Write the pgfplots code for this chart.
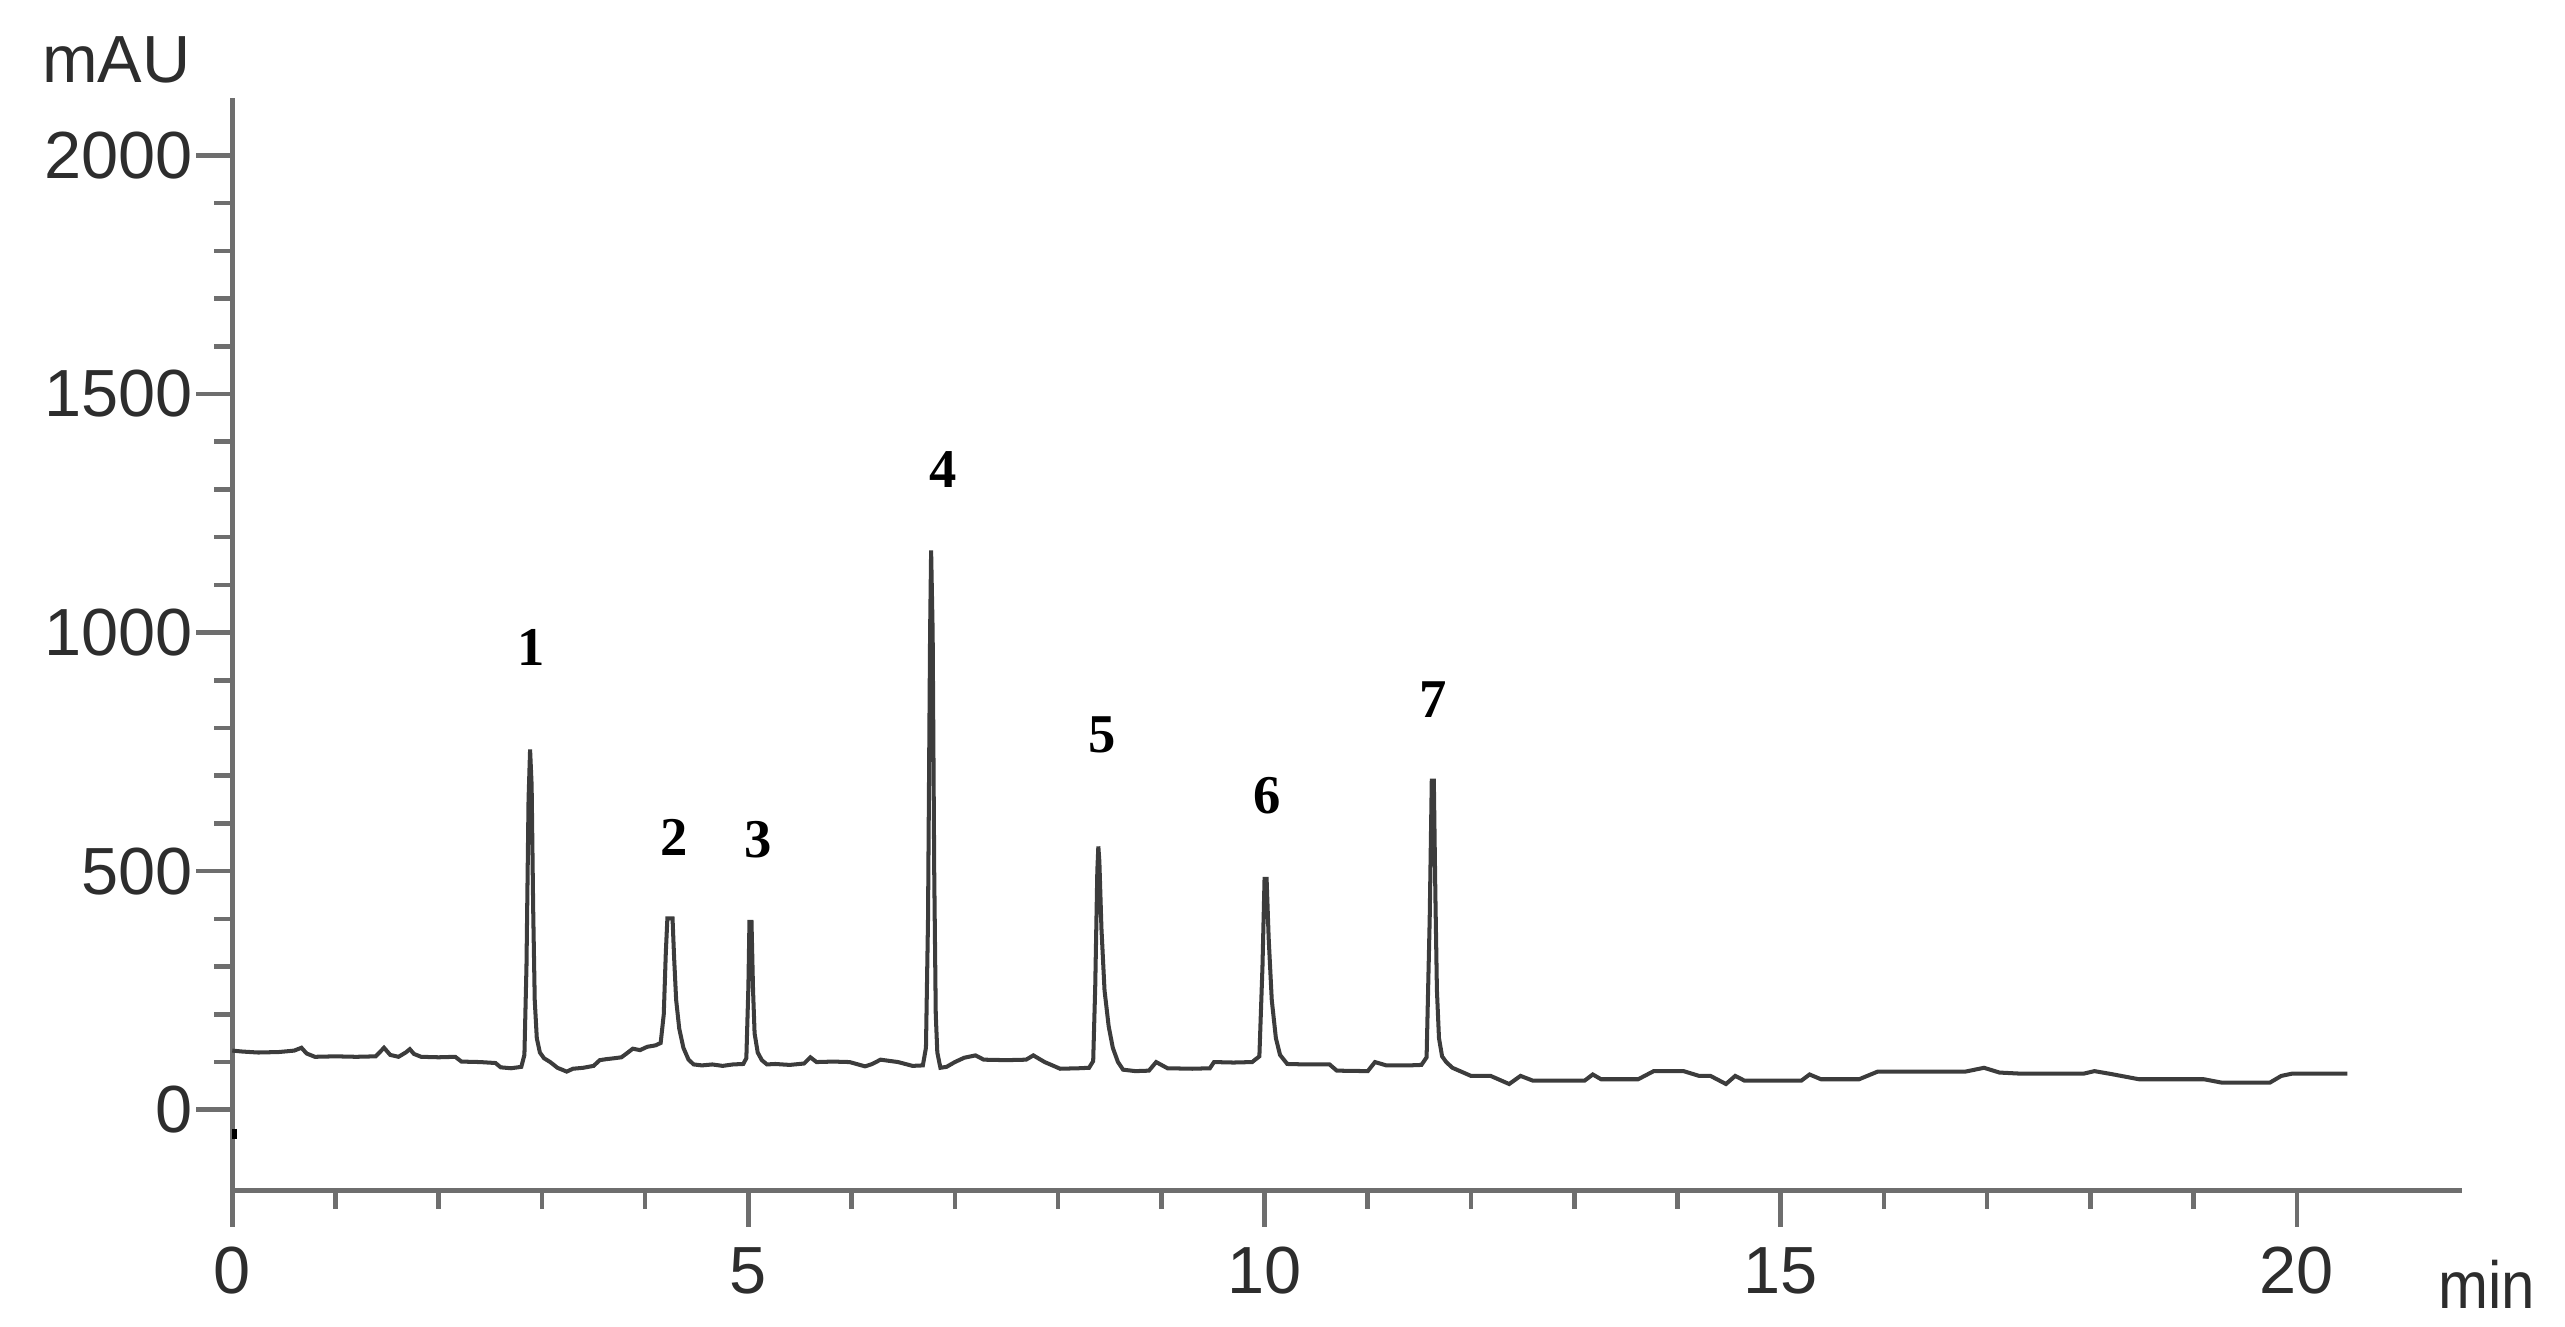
\documentclass[border=0pt]{standalone}
\usepackage{fontspec}
\setmainfont{Liberation Sans}
\newfontfamily\peakfont{Liberation Serif}
\usepackage{pgfplots}
\pgfplotsset{compat=1.18}
\definecolor{axgray}{RGB}{110,110,110}
\definecolor{trace}{RGB}{60,60,60}
\definecolor{lbl}{RGB}{45,45,45}

\begin{document}
\begin{tikzpicture}
\begin{axis}[
  scale only axis,
  width=136.3mm, height=66.8mm,
  xmin=0, xmax=21.6,
  ymin=-170, ymax=2120,
  axis x line*=bottom, axis y line*=left,
  axis line style={axgray, line width=0.9pt},
  xtick={0,5,10,15,20},
  ytick={0,500,1000,1500,2000},
  minor x tick num=4,
  minor y tick num=4,
  tick align=outside,
  major tick length=2.2mm,
  minor tick length=1.1mm,
  every tick/.style={axgray, line width=0.8pt},
  tick label style={font=\fontsize{11.6}{13}\selectfont, text=lbl},
  yticklabel style={inner sep=0.4pt},
  /pgf/number format/assume math mode=true,
  /pgf/number format/1000 sep={},
  clip=false,
]
\addplot[trace, line width=0.7pt] coordinates {
(0.00,124) (0.10,122) (0.25,120) (0.45,121) (0.60,124) (0.67,130) (0.72,118)
(0.80,111) (1.00,112) (1.20,111) (1.39,112) (1.47,130) (1.53,115) (1.61,111)
(1.68,120) (1.72,127) (1.76,117) (1.83,111) (2.00,110) (2.16,111) (2.22,101)
(2.40,100) (2.55,98) (2.60,89) (2.70,87) (2.80,90)
(2.83,115) (2.85,300) (2.87,650) (2.885,755) (2.90,680) (2.915,420) (2.93,230)
(2.95,150) (2.98,120) (3.02,108) (3.08,100) (3.15,88) (3.24,80) (3.30,86)
(3.40,88) (3.50,92) (3.56,104) (3.62,106) (3.70,108) (3.77,110) (3.82,118)
(3.88,128) (3.95,125) (4.02,132) (4.10,135) (4.15,140)
(4.18,200) (4.20,330) (4.215,401) (4.265,401) (4.28,320) (4.30,230) (4.33,170)
(4.37,130) (4.42,105) (4.47,95) (4.55,93) (4.65,95) (4.75,92) (4.85,95) (4.95,96)
(4.98,108) (5.00,260) (5.01,394) (5.03,394) (5.045,250) (5.06,160) (5.09,120)
(5.13,104) (5.18,95) (5.26,96) (5.40,94) (5.54,97) (5.60,110) (5.66,100)
(5.82,101) (5.98,100) (6.13,91) (6.20,96) (6.28,105) (6.45,100) (6.59,92) (6.69,93)
(6.72,130) (6.74,400) (6.76,1000) (6.77,1172) (6.785,1000) (6.80,500) (6.815,200)
(6.83,120) (6.86,88) (6.92,90) (7.00,100) (7.09,109) (7.20,114) (7.28,105)
(7.50,104) (7.69,105) (7.76,114) (7.87,100) (8.02,86) (8.20,87) (8.30,88)
(8.34,102) (8.36,260) (8.38,500) (8.39,552) (8.40,520) (8.42,380) (8.45,250)
(8.49,175) (8.53,130) (8.58,100) (8.63,84) (8.75,81) (8.88,82) (8.95,100)
(9.06,87) (9.30,86) (9.47,87) (9.51,100) (9.70,99) (9.88,100)
(9.95,112) (9.98,300) (10.00,484) (10.02,484) (10.04,360) (10.07,230) (10.11,150)
(10.15,115) (10.22,96) (10.40,95) (10.63,95) (10.70,82) (11.00,81) (11.07,100)
(11.18,93) (11.40,93) (11.52,94)
(11.57,110) (11.60,400) (11.62,690) (11.64,690) (11.655,450) (11.67,250)
(11.69,150) (11.72,112) (11.76,100) (11.82,88) (12.00,71) (12.19,71) (12.37,54)
(12.48,71) (12.60,61) (13.10,61) (13.18,74) (13.26,64) (13.62,64) (13.77,81)
(14.06,81) (14.21,71) (14.32,71) (14.47,54) (14.56,71) (14.65,61) (15.20,61)
(15.28,74) (15.39,64) (15.76,64) (15.94,80) (16.50,80) (16.79,80) (16.97,88)
(17.12,78) (17.30,76) (17.94,76) (18.04,81) (18.20,75) (18.47,64) (19.10,64)
(19.27,57) (19.74,57) (19.85,71) (19.96,76) (20.49,76)
};
\addplot[black, line width=0.8pt] coordinates {(0.02,-40) (0.02,-62)};

% peak numbers
\begin{scope}[every node/.style={font=\peakfont\bfseries\fontsize{9.5}{11}\selectfont, inner sep=0pt}]
\node at (axis cs:2.90,969) {1};
\node at (axis cs:4.28,570) {2};
\node at (axis cs:5.09,567) {3};
\node at (axis cs:6.89,1341) {4};
\node at (axis cs:8.43,785) {5};
\node at (axis cs:10.03,659) {6};
\node at (axis cs:11.63,860) {7};
\end{scope}
\node[font=\fontsize{11.6}{13}\selectfont, text=lbl, inner sep=0pt] at (axis cs:-1.125,2200) {mAU};
\node[font=\fontsize{11.6}{13}\selectfont, text=lbl, inner sep=0pt, xscale=0.9] at (axis cs:21.84,-365) {min};
\end{axis}
\pgfresetboundingbox
\useasboundingbox (-14.2mm,-8.3mm) rectangle (142.6mm,72.8mm);
\end{tikzpicture}
\end{document}
